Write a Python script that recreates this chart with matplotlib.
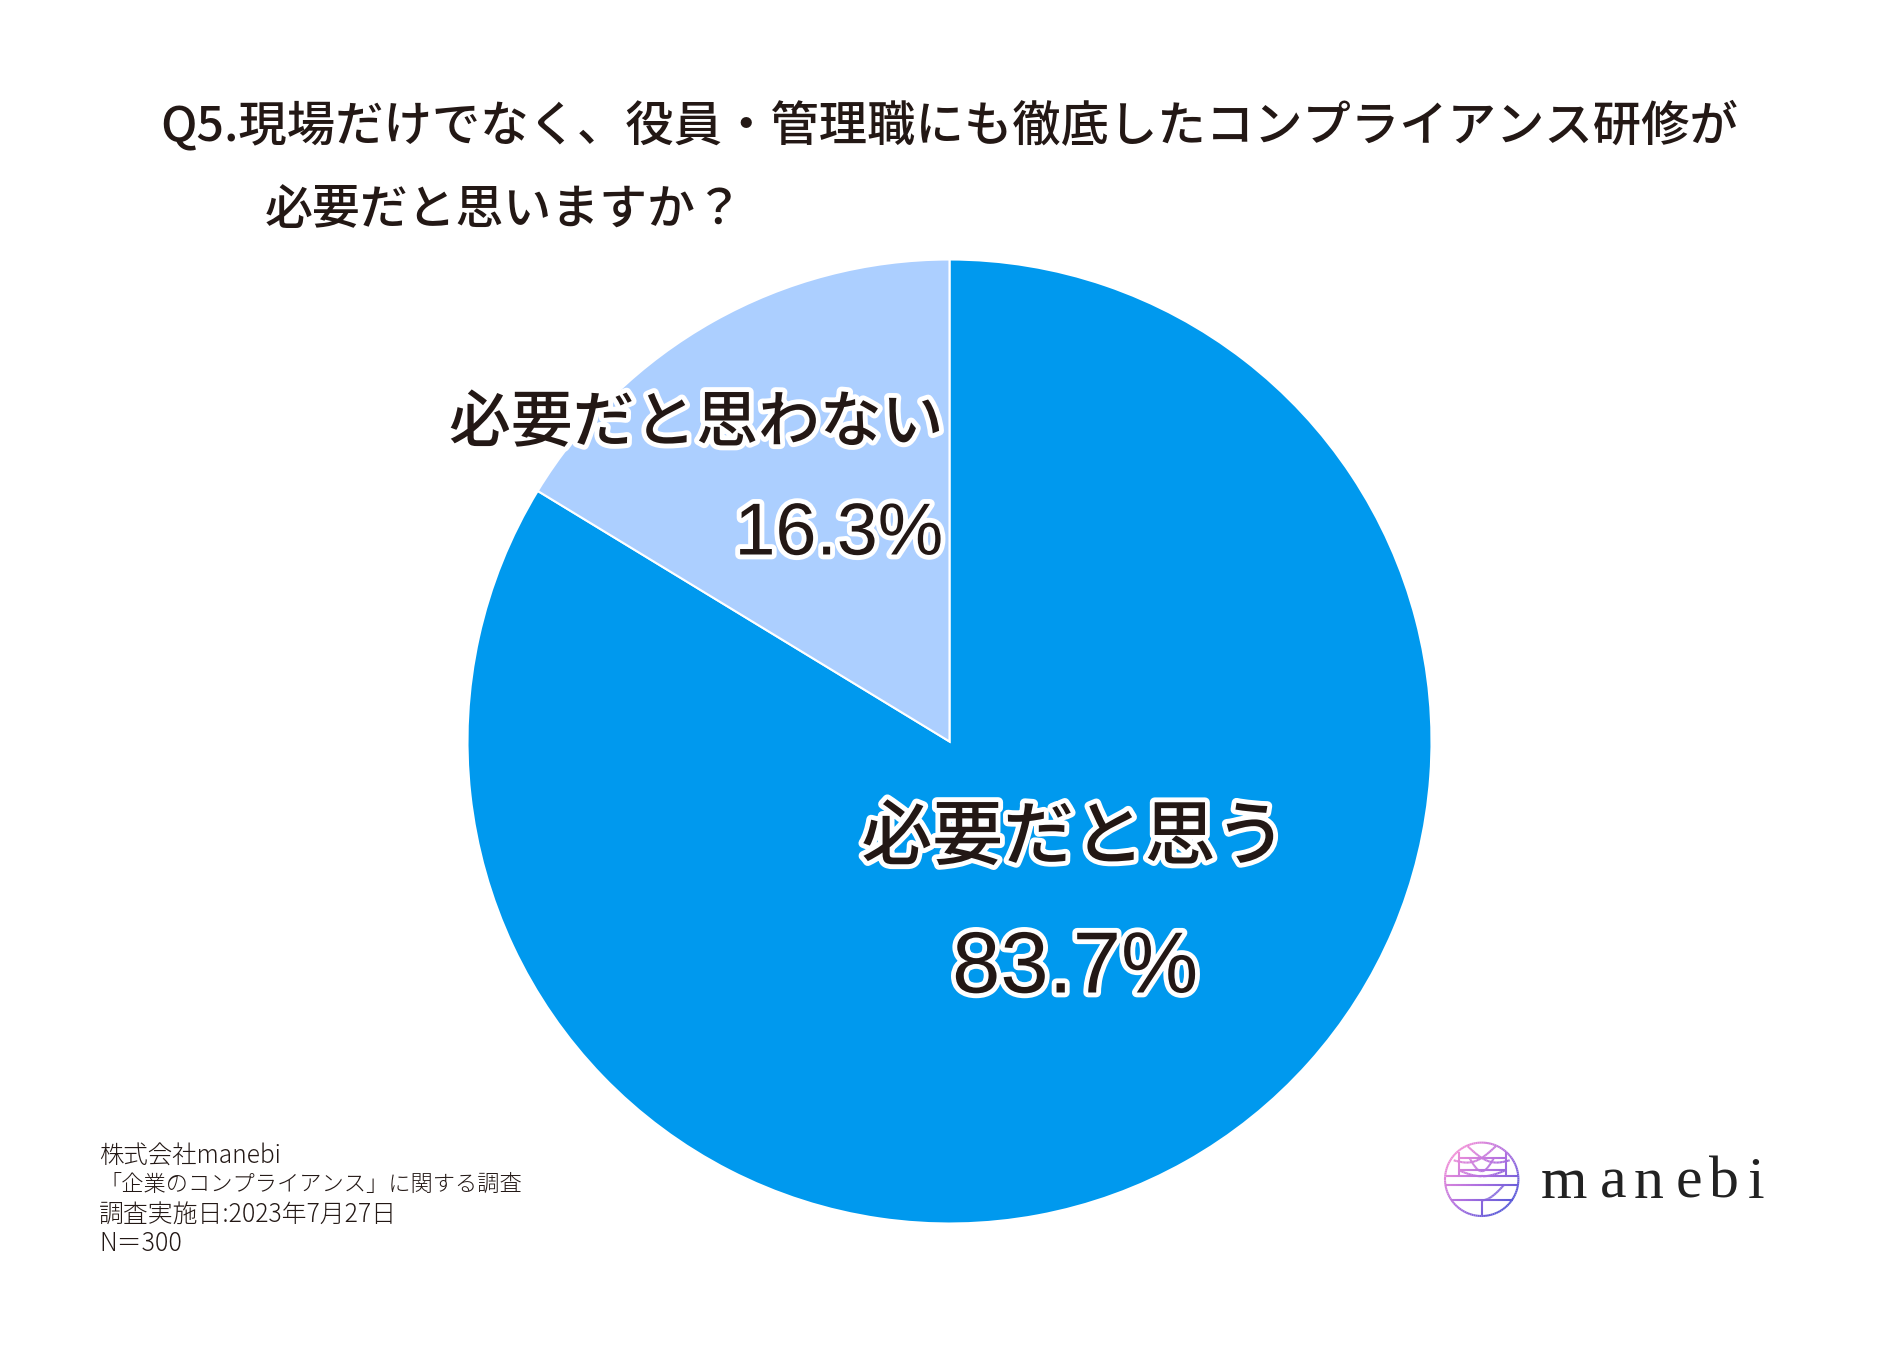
import numpy as np
import matplotlib
matplotlib.use("Agg")
import matplotlib.pyplot as plt
import matplotlib.patheffects as pe
from matplotlib.collections import LineCollection
from matplotlib.colors import LinearSegmentedColormap

plt.rcParams["font.family"] = ["Noto Sans CJK JP", "DejaVu Sans"]

W, H = 1899, 1350
labels = ["必要だと思う", "必要だと思わない"]
values = [83.7, 16.3]
colors = ["#0099EE", "#ACCFFF"]
title_lines = ["Q5.現場だけでなく、役員・管理職にも徹底したコンプライアンス研修が", "必要だと思いますか\uff1f"]
note_lines = ["株式会社manebi", "「企業のコンプライアンス」に関する調査", "調査実施日:2023年7月27日", "N\uff1d300"]
note_sizes = [17.6, 16.0, 17.9, 18]
logo_letters = ["m", "a", "n", "e", "b", "i"]
logo_x = [1541, 1600, 1634, 1676, 1709, 1748]
ink = "#231815"


def fx(x):
    return x / W


def fy(y):
    return 1 - y / H


fig = plt.figure(figsize=(W / 100, H / 100), dpi=100, facecolor="white")

# pie axes, centre (949.5, 741.5), radius 482 px
ax = fig.add_axes([fx(949.5 - 482), fy(741.5 + 482), 964 / W, 964 / H])
ax.pie(values, colors=colors, startangle=90, counterclock=False, radius=1,
       wedgeprops={"edgecolor": "white", "linewidth": 1.5})
ax.set_xlim(-1, 1)
ax.set_ylim(-1, 1)

# title
fig.text(fx(160), fy(126), title_lines[0], fontsize=34.8, color=ink, ha="left", va="center", fontweight="medium")
fig.text(fx(265), fy(210), title_lines[1], fontsize=34.5, color=ink, ha="left", va="center", fontweight="medium")

# slice labels with white outline
stroke = [pe.withStroke(linewidth=7, foreground="white")]
fig.text(fx(1074), fy(839), labels[0], fontsize=51, color=ink, ha="center", va="center",
         fontweight="medium", path_effects=stroke)
fig.text(fx(1075), fy(970), f"{values[0]}%", fontsize=62.5, color=ink, ha="center", va="center",
         family="Liberation Sans", path_effects=stroke)
fig.text(fx(696), fy(424), labels[1], fontsize=44.5, color=ink, ha="center", va="center",
         fontweight="medium", path_effects=stroke)
fig.text(fx(839), fy(535), f"{values[1]}%", fontsize=53, color=ink, ha="center", va="center",
         family="Liberation Sans", path_effects=stroke)

# footnote
for i, line in enumerate(note_lines):
    fig.text(fx(99), fy(1155 + i * 29.7), line, fontsize=note_sizes[i], color=ink, ha="left", va="center",
             fontweight="light")

# logo wordmark
for ch, x in zip(logo_letters, logo_x):
    fig.text(fx(x), fy(1198), ch, fontsize=43, color="#222222", ha="left", va="baseline",
             family="Liberation Serif")

# logo mark, strokes coloured along a pink to blue gradient
logo_ax = fig.add_axes([fx(1481.7 - 40), fy(1179.3 + 40), 80 / W, 80 / H])
logo_ax.set_xlim(-40, 40)
logo_ax.set_ylim(-40, 40)
logo_ax.axis("off")
t = np.linspace(0, 2 * np.pi, 120)
strokes = [np.c_[36.7 * np.cos(t), 36.7 * np.sin(t)]]
for y0, x0 in [(3, 36), (-6, 36), (-21, 31)]:
    strokes.append(np.array([[-x0, y0], [x0, y0]]))
for y0 in [21, 9]:
    strokes.append(np.array([[-23, y0], [24, y0]]))
for x0 in [-23, 24]:
    strokes.append(np.array([[x0, 3], [x0, 27]]))
strokes.append(np.array([[0, -21], [0, -36]]))
a = np.linspace(0, 1, 30)
strokes.append(np.c_[-23 + 47 * a, 9 - 6 * np.sin(a * np.pi)])
strokes.append(np.c_[-14 + 42 * a, 33 - 14 * a - 8 * np.sin(a * np.pi)])
strokes.append(np.c_[14 - 42 * a, 33 - 14 * a - 8 * np.sin(a * np.pi)])
strokes.append(np.c_[-12 + 24 * a, 21 - 13 * np.sin(a * np.pi)])
strokes.append(np.c_[22 - 22 * a, -6 - 15 * np.sin(a * np.pi / 2)])
cmap = LinearSegmentedColormap.from_list("logo", ["#F090D8", "#B070E0", "#5A5AD8"])
segs, vals = [], []
for s in strokes:
    if len(s) == 2:
        s = np.c_[np.linspace(s[0, 0], s[1, 0], 30), np.linspace(s[0, 1], s[1, 1], 30)]
    for p, q in zip(s[:-1], s[1:]):
        segs.append([p, q])
        vals.append((p[0] - p[1] + 52) / 104)
logo_ax.add_collection(LineCollection(segs, array=np.array(vals), cmap=cmap, linewidths=1.5, clim=(0, 1)))

fig.savefig("out.png", dpi=100, facecolor="white")
